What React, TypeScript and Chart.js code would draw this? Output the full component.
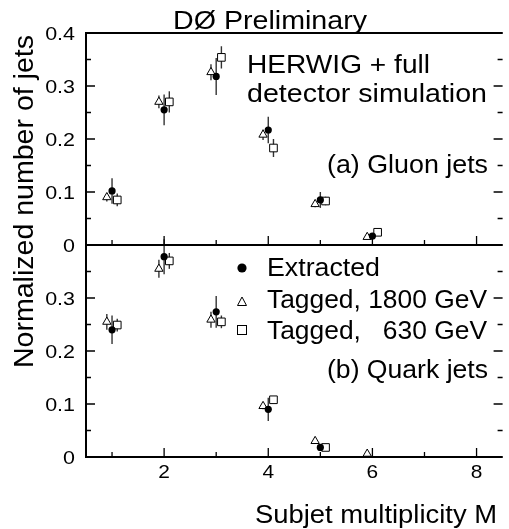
import { useEffect, useRef } from "react";
import { Chart, registerables } from "chart.js";

Chart.register(...registerables);

// ---------- data ----------
const multiplicity = [1, 2, 3, 4, 5, 6];
const seriesNames = ["Extracted", "Tagged, 1800 GeV", "Tagged,   630 GeV"];
const seriesShift = [0, -0.1, 0.1];

const gluonExtracted = [0.102, 0.255, 0.318, 0.217, 0.085, 0.017];
const gluonExtractedErr = [0.024, 0.029, 0.035, 0.025, 0.015, 0.004];
const gluonTagged1800 = [0.09, 0.27, 0.326, 0.208, 0.077, 0.015];
const gluonTagged1800Err = [0.008, 0.012, 0.015, 0.01, 0.006, 0.003];
const gluonTagged630 = [0.085, 0.27, 0.354, 0.183, 0.083, 0.024];
const gluonTagged630Err = [0.012, 0.02, 0.021, 0.017, 0.008, 0.003];

const quarkExtracted = [0.24, 0.378, 0.274, 0.09, 0.018, null];
const quarkExtractedErr = [0.027, 0.033, 0.03, 0.022, 0.005, null];
const quarkTagged1800 = [0.255, 0.355, 0.259, 0.096, 0.03, 0.006];
const quarkTagged1800Err = [0.015, 0.017, 0.015, 0.006, 0.005, 0.004];
const quarkTagged630 = [0.249, 0.37, 0.255, 0.108, 0.018, null];
const quarkTagged630Err = [0.012, 0.015, 0.012, 0.006, 0.004, null];

const xTickValues = [1, 2, 3, 4, 5, 6, 7, 8];
const xTickLabels = ["", "2", "", "4", "", "6", "", "8"];
const yTickValues = [0, 0.05, 0.1, 0.15, 0.2, 0.25, 0.3, 0.35, 0.4];
const yTickLabelsGluon = ["0", "", "0.1", "", "0.2", "", "0.3", "", "0.4"];
const yTickLabelsQuark = ["0", "", "0.1", "", "0.2", "", "0.3", "", ""];

const titleText = "DØ Preliminary";
const yAxisTitle = "Normalized number of jets";
const xAxisTitle = "Subjet multiplicity M";
const noteLines = ["HERWIG + full", "detector simulation"];
const gluonLabel = "(a) Gluon jets";
const quarkLabel = "(b) Quark jets";

// ---------- helpers ----------
type Pt = { x: number; y: number; e: number };

function buildPoints(vals: (number | null)[], errs: (number | null)[], shift: number): Pt[] {
  const out: Pt[] = [];
  multiplicity.forEach((m, i) => {
    const v = vals[i];
    if (v === null || v === undefined) return;
    out.push({ x: m + shift, y: v, e: (errs[i] as number) || 0 });
  });
  return out;
}

const FONT = '"Liberation Sans", Arial, Helvetica, sans-serif';

function drawText(
  ctx: CanvasRenderingContext2D,
  text: string,
  x: number,
  y: number,
  size: number,
  align: CanvasTextAlign,
  width?: number,
  rotate = false,
  baseline: CanvasTextBaseline = "alphabetic",
  sxFixed?: number
) {
  ctx.save();
  ctx.font = `${size}px ${FONT}`;
  const w = ctx.measureText(text).width;
  const sx = sxFixed ? sxFixed : width ? width / w : 1;
  ctx.translate(x, y);
  if (rotate) ctx.rotate(-Math.PI / 2);
  ctx.scale(sx, 1);
  ctx.textAlign = align;
  ctx.textBaseline = baseline;
  ctx.fillStyle = "#000";
  ctx.fillText(text, 0, 0);
  ctx.restore();
}

const d0Plugin = {
  id: "d0Frame",
  beforeDatasetsDraw(chart: any) {
    const ctx: CanvasRenderingContext2D = chart.ctx;
    const xs = chart.scales.x;
    ctx.save();
    ctx.strokeStyle = "#333";
    ctx.lineWidth = 1.4;
    chart.data.datasets.forEach((ds: any) => {
      const ys = chart.scales[ds.yAxisID];
      ds.data.forEach((p: Pt) => {
        if (!p.e) return;
        const px = xs.getPixelForValue(p.x);
        ctx.beginPath();
        ctx.moveTo(px, ys.getPixelForValue(p.y - p.e));
        ctx.lineTo(px, ys.getPixelForValue(p.y + p.e));
        ctx.stroke();
      });
    });
    ctx.restore();
  },
  afterDatasetsDraw(chart: any) {
    const ctx: CanvasRenderingContext2D = chart.ctx;
    const xs = chart.scales.x;
    const yg = chart.scales.yG;
    const yq = chart.scales.yQ;
    const left = xs.left;
    const right = xs.right;
    const top = yg.top;
    const mid = yg.getPixelForValue(0);
    const bottom = yq.getPixelForValue(0);

    ctx.save();
    ctx.strokeStyle = "#000";
    ctx.lineWidth = 2;
    ctx.beginPath();
    ctx.moveTo(left, top);
    ctx.lineTo(right, top);
    ctx.moveTo(left, top - 1);
    ctx.lineTo(left, bottom + 1);
    ctx.moveTo(left, mid);
    ctx.lineTo(right, mid);
    ctx.moveTo(left, bottom);
    ctx.lineTo(right, bottom);
    ctx.stroke();

    // ticks
    ctx.lineWidth = 1.3;
    ctx.beginPath();
    yTickValues.forEach((v, i) => {
      const major = yTickLabelsGluon[i] !== "" || i === yTickValues.length - 1;
      const len = major ? 9 : 5;
      [yg.getPixelForValue(v), yq.getPixelForValue(v)].forEach((py) => {
        ctx.moveTo(left, py);
        ctx.lineTo(left + len, py);
        ctx.moveTo(right, py);
        ctx.lineTo(right - len, py);
      });
    });
    xTickValues.forEach((v, i) => {
      const len = xTickLabels[i] !== "" ? 9 : 5;
      const px = xs.getPixelForValue(v);
      [mid, bottom].forEach((py) => {
        ctx.moveTo(px, py);
        ctx.lineTo(px, py - len);
      });
    });
    ctx.stroke();
    ctx.restore();

    // tick labels
    yTickValues.forEach((v, i) => {
      if (yTickLabelsGluon[i])
        drawText(ctx, yTickLabelsGluon[i], left - 11, yg.getPixelForValue(v) + 1.5, 19, "right", undefined, false, "middle", 1.13);
      if (yTickLabelsQuark[i])
        drawText(ctx, yTickLabelsQuark[i], left - 11, yq.getPixelForValue(v) + 2, 19, "right", undefined, false, "middle", 1.13);
    });
    xTickValues.forEach((v, i) => {
      if (xTickLabels[i])
        drawText(ctx, xTickLabels[i], xs.getPixelForValue(v), 478, 19, "center", undefined, false, "alphabetic", 1.1);
    });

    // texts
    drawText(ctx, titleText, 173, 29, 25, "left", 194);
    drawText(ctx, noteLines[0], 247, 73, 25, "left", 183);
    drawText(ctx, noteLines[1], 247, 102, 25, "left", 240);
    drawText(ctx, gluonLabel, 488, 173, 25, "right", 161);
    drawText(ctx, quarkLabel, 488, 378, 25, "right", 161);
    drawText(ctx, xAxisTitle, 255, 523, 25, "left", 242);
    drawText(ctx, yAxisTitle, 33, 368, 27, "left", 333, true);

    // legend
    const names = chart.data.datasets.filter((d: any) => d.yAxisID === "yQ").map((d: any) => d.label);
    const lx = 242;
    const rows = [268, 302, 330];
    const bases = [276, 308, 339];
    ctx.save();
    ctx.fillStyle = "#000";
    ctx.strokeStyle = "#000";
    ctx.lineWidth = 1;
    ctx.beginPath();
    ctx.arc(lx, rows[0], 4.6, 0, Math.PI * 2);
    ctx.fill();
    ctx.beginPath();
    ctx.moveTo(lx, rows[1] - 5);
    ctx.lineTo(lx + 4.5, rows[1] + 3.5);
    ctx.lineTo(lx - 4.5, rows[1] + 3.5);
    ctx.closePath();
    ctx.stroke();
    ctx.strokeRect(lx - 4.5, rows[2] - 4.5, 9, 9);
    ctx.restore();
    names.forEach((n: string, i: number) => {
      drawText(ctx, n, 267, bases[i], 26, "left", i === 0 ? 113 : 220);
    });
  },
};

export default function App() {
  const ref = useRef<HTMLCanvasElement | null>(null);

  useEffect(() => {
    if (!ref.current) return;
    const styles = [
      { pointStyle: "circle", radius: 3.6, backgroundColor: "#000", borderColor: "#000", borderWidth: 0 },
      { pointStyle: "triangle", radius: 4.8, backgroundColor: "#fff", borderColor: "#000", borderWidth: 1 },
      { pointStyle: "rect", radius: 5.4, backgroundColor: "#fff", borderColor: "#000", borderWidth: 1 },
    ];
    const gluon = [
      [gluonExtracted, gluonExtractedErr],
      [gluonTagged1800, gluonTagged1800Err],
      [gluonTagged630, gluonTagged630Err],
    ];
    const quark = [
      [quarkExtracted, quarkExtractedErr],
      [quarkTagged1800, quarkTagged1800Err],
      [quarkTagged630, quarkTagged630Err],
    ];
    const datasets: any[] = [];
    [0, 1, 2].forEach((k) => {
      [
        { src: gluon, axis: "yG" },
        { src: quark, axis: "yQ" },
      ].forEach(({ src, axis }) => {
        const s = styles[k];
        datasets.push({
          label: seriesNames[k],
          yAxisID: axis,
          data: buildPoints(src[k][0] as any, src[k][1] as any, seriesShift[k]),
          showLine: false,
          pointStyle: s.pointStyle,
          pointRadius: s.radius,
          pointBackgroundColor: s.backgroundColor,
          pointBorderColor: s.borderColor,
          pointBorderWidth: s.borderWidth,
          pointHoverRadius: s.radius,
        });
      });
    });

    const chart = new Chart(ref.current, {
      type: "scatter",
      data: { datasets },
      options: {
        animation: false,
        responsive: false,
        events: [],
        layout: { padding: { left: 86, top: 33, right: 0, bottom: 72 } },
        plugins: { legend: { display: false }, tooltip: { enabled: false } },
        scales: {
          x: { type: "linear", min: 0.5, max: 8.5, display: false },
          yG: { type: "linear", min: -0.4, max: 0.4, display: false },
          yQ: { type: "linear", min: 0, max: 0.8, display: false },
        },
      },
      plugins: [d0Plugin as any],
    });
    return () => chart.destroy();
  }, []);

  return (
    <div style={{ position: "fixed", left: 0, top: 0, width: 509, height: 529, background: "#fff" }}>
      <canvas ref={ref} width={509} height={529} style={{ width: 509, height: 529, display: "block" }} />
    </div>
  );
}
